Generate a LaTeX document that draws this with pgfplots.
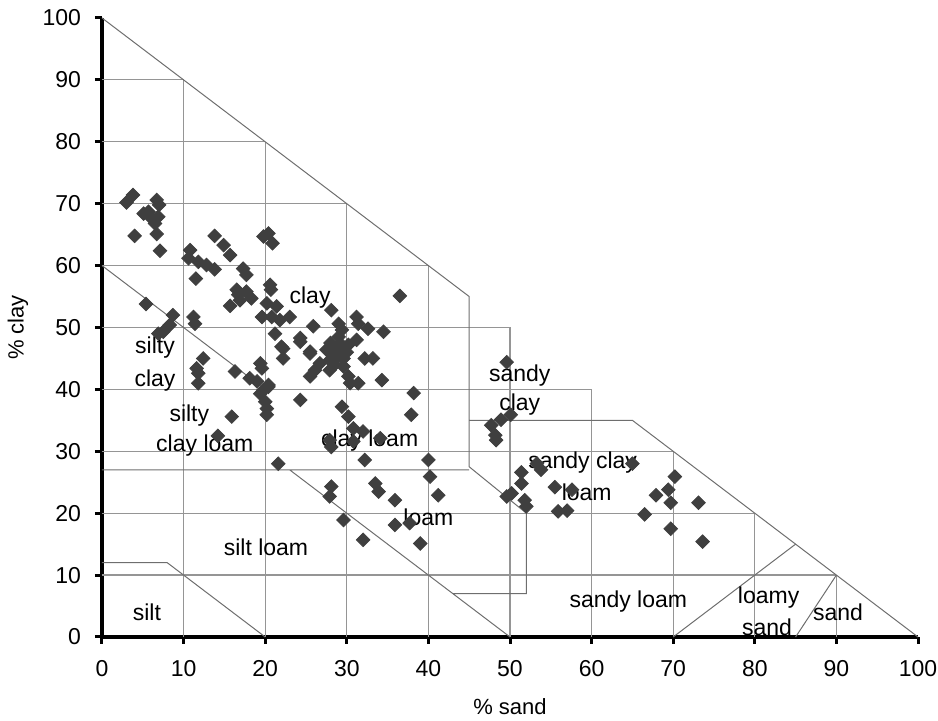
\documentclass[border=0pt]{standalone}
\usepackage{pgfplots}
\pgfplotsset{compat=1.18}
\usepackage{fontspec}
\setmainfont{Liberation Sans}
\definecolor{mk}{HTML}{3F3F3F}
\definecolor{gridc}{HTML}{959595}
\definecolor{bnd}{HTML}{6E6E6E}
\begin{document}
\begin{tikzpicture}
\begin{axis}[
  scale only axis, width=408pt, height=309.5pt,
  xmin=0, xmax=100, ymin=0, ymax=100,
  axis x line*=bottom, axis y line*=left,
  axis line style={line width=2.2pt, black, -},
  xtick={0,10,...,100}, ytick={0,10,...,100},
  tick align=outside, major tick length=3.5pt,
  tick style={line width=1.5pt, black},
  /pgf/number format/assume math mode=true,
  ticklabel style={font=\fontsize{11.5}{13}\selectfont},
  xticklabel style={yshift=-4.5pt},
  yticklabel style={xshift=-3.5pt},
  clip=false,
  unbounded coords=jump,
]
% staircase grid
\addplot[gridc, line width=0.6pt, mark=none] coordinates {
 (0,10)(90,10) (nan,nan) (0,20)(80,20) (nan,nan) (0,30)(70,30) (nan,nan)
 (0,40)(60,40) (nan,nan) (0,50)(50,50) (nan,nan) (0,60)(40,60) (nan,nan)
 (0,70)(30,70) (nan,nan) (0,80)(20,80) (nan,nan) (0,90)(10,90) (nan,nan)
 (10,0)(10,90) (nan,nan) (20,0)(20,80) (nan,nan) (30,0)(30,70) (nan,nan)
 (40,0)(40,60) (nan,nan) (50,0)(50,50) (nan,nan) (60,0)(60,40) (nan,nan)
 (70,0)(70,30) (nan,nan) (80,0)(80,20) (nan,nan) (90,0)(90,10)
};
% texture class boundaries
\addplot[bnd, line width=0.5pt, mark=none] coordinates {
 (0,100)(45,55)(45,27.5)(52,20)(52,7)(43,7) (nan,nan)
 (23,27)(50,0) (nan,nan)
 (0,27)(45,27) (nan,nan)
 (0,60)(20,40) (nan,nan)
 (0,12)(8,12)(20,0) (nan,nan)
 (45,35)(65,35)(100,0) (nan,nan)
 (70,0)(85,15) (nan,nan)
 (85,0)(90,10)
};
% samples
\addplot[only marks, mark=square*, mark size=2.4pt,
  mark options={rotate=45, fill=mk, draw=mk}] coordinates {
 (3.0,70.2)(3.8,71.4)(4.0,64.8)(5.1,68.4)(5.7,68.7)(6.1,67.6)(6.5,66.8)
 (6.7,70.6)(6.9,67.9)(7.0,69.8)(6.7,65.1)(7.1,62.4)(5.4,53.8)(8.7,52.0)
 (8.3,50.4)(7.5,49.3)(6.9,49.0)
 (10.6,61.2)(10.8,62.5)(11.5,57.9)(11.8,60.6)(12.8,60.1)(13.8,59.4)
 (13.8,64.8)(14.9,63.3)(15.7,61.7)(17.3,59.5)(17.7,58.5)(16.7,55.3)
 (17.7,55.8)(18.3,54.7)(15.7,53.5)(16.9,54.4)(16.5,56.1)(11.2,51.7)(11.4,50.6)
 (19.8,64.7)(20.4,65.2)(20.9,63.6)(20.6,56.9)(20.7,56.1)(20.2,53.9)
 (21.4,53.4)(19.6,51.7)(20.8,51.7)(21.8,51.2)(23.0,51.7)(21.2,49.0)
 (25.9,50.2)(24.3,48.3)
 (28.1,52.8)(36.5,55.1)(29.0,50.6)(29.4,49.6)(31.2,51.7)(31.4,50.6)
 (32.6,49.8)(34.5,49.3)(31.2,48.0)(24.3,47.7)(22.2,46.6)(22.0,46.9)
 (22.2,45.0)(25.5,46.1)(25.5,45.8)(27.5,46.4)(28.8,46.9)(27.9,44.7)
 (29.6,45.0)(26.7,44.2)(26.1,43.1)(27.9,43.1)(29.6,43.7)(30.2,42.1)
 (25.5,42.1)(32.2,45.0)(33.2,45.0)(34.3,41.5)(30.4,41.0)(31.4,41.0)
 (24.3,38.3)(28.5,46.0)(29.0,45.5)(28.0,47.5)(29.5,47.0)(30.0,46.0)
 (28.5,44.0)(29.0,48.5)(30.2,47.2)
 (12.4,45.0)(11.6,43.4)(11.8,42.6)(11.8,41.0)(16.3,42.9)(19.4,44.2)
 (19.6,43.4)(18.1,41.8)(19.0,41.3)(19.8,39.9)(20.4,40.4)(20.4,40.7)
 (19.4,39.3)(20.0,38.0)(20.2,36.9)(20.2,35.9)(15.9,35.6)(14.2,32.5)(21.6,28.0)
 (38.2,39.4)(37.9,35.9)(29.4,37.2)(30.2,35.6)(30.8,33.7)(32.0,33.2)
 (27.9,31.8)(28.1,30.7)(30.8,31.6)(34.1,32.1)(32.2,28.6)(40.0,28.6)
 (40.2,25.9)(41.2,22.9)(28.1,24.3)(27.9,22.7)(33.5,24.8)(33.9,23.5)
 (35.9,22.1)(29.6,18.9)(35.9,18.1)(37.7,18.4)(32.0,15.7)(39.0,15.1)
 (49.6,44.4)(50.1,35.9)(48.9,35.1)(47.7,34.2)(48.2,32.6)(48.3,31.8)
 (51.4,26.6)(51.4,24.8)(49.6,22.7)(50.2,23.2)(51.8,22.1)(52.0,21.1)
 (53.3,28.0)(53.8,27.0)(55.5,24.2)(55.9,20.3)(57.0,20.4)(57.6,23.8)
 (65.0,28.0)(70.2,25.9)(69.4,23.8)(67.9,22.9)(69.7,21.7)(66.5,19.8)
 (69.7,17.5)(73.1,21.7)(73.6,15.4)
};
% class labels
\begin{scope}[every node/.style={font=\fontsize{11.5}{13}\selectfont, text=black, inner sep=0pt}]
\node at (axis cs:25.5,54.8) {clay};
\node at (axis cs:6.5,46.8) {silty};
\node at (axis cs:6.5,41.4) {clay};
\node at (axis cs:10.7,35.7) {silty};
\node at (axis cs:12.6,31.0) {clay loam};
\node at (axis cs:32.8,31.8) {clay loam};
\node at (axis cs:51.2,42.2) {sandy};
\node at (axis cs:51.2,37.5) {clay};
\node at (axis cs:58.9,28.1) {sandy clay};
\node at (axis cs:59.4,23.4) {loam};
\node at (axis cs:40.0,19.4) {loam};
\node at (axis cs:20.1,14.5) {silt loam};
\node at (axis cs:64.5,5.8) {sandy loam};
\node at (axis cs:81.7,6.3) {loamy};
\node at (axis cs:81.5,1.5) {sand};
\node at (axis cs:90.2,4.0) {sand};
\node at (axis cs:5.5,4.0) {silt};
\end{scope}
\end{axis}
\node[font=\fontsize{11}{13}\selectfont, inner sep=0pt] at (204pt,-35pt) {\% sand};
\node[font=\fontsize{11}{13}\selectfont, rotate=90, inner sep=0pt] at (-42pt,154.75pt) {\% clay};
\pgfresetboundingbox
\path[use as bounding box] (-51pt,-42pt) rectangle (418pt,318.5pt);
\end{tikzpicture}
\end{document}
